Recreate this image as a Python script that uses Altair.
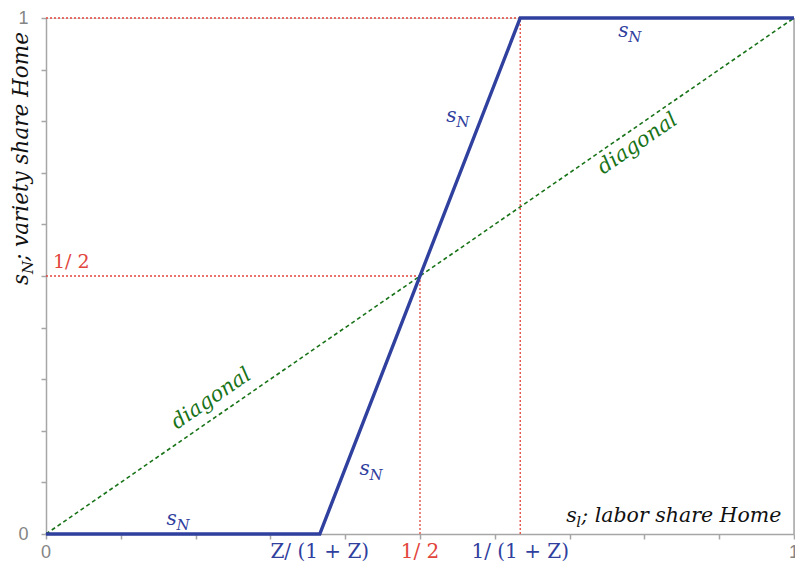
import altair as alt
import pandas as pd

# ---- data ----
kink_low = 0.366   # Z/(1+Z)
kink_high = 0.634  # 1/(1+Z)
half = 0.5
sl_vals = [0.0, kink_low, kink_high, 1.0]
sn_vals = [0.0, 0.0, 1.0, 1.0]
diag_x = [0.0, 1.0]
diag_y = [0.0, 1.0]
tick_vals = [0.0, 0.1, 0.2, 0.3, 0.4, 0.5, 0.6, 0.7, 0.8, 0.9, 1.0]

# red dotted guides (x, y, x2, y2)
guide_x = [0.0, kink_high, 0.0, half]
guide_y = [1.0, 0.0, half, 0.0]
guide_x2 = [kink_high, kink_high, half, half]
guide_y2 = [1.0, 1.0, half, half]

# s_N label anchors (data coords)
sn_lab_x = [0.765, 0.535, 0.419, 0.161]
sn_lab_y = [0.963, 0.798, 0.114, 0.017]
diag_lab_x = [0.791, 0.221]
diag_lab_y = [0.756, 0.262]
x_lab_text = ["0", "Z/ (1 + Z)", "1/ 2", "1/ (1 + Z)", "1"]
x_lab_pos = [0.0, kink_low, half, kink_high, 1.0]
x_lab_kind = ["plain", "blue", "red", "blue", "plain"]

BLUE = "#2F409E"
GREEN = "#187318"
RED = "#E2453C"
GRAY = "#A6A6A6"
LGRAY = "#858585"
SERIF = "DejaVu Serif"
SANS = "Liberation Sans"

xs = alt.Scale(domain=[0, 1], nice=False, zero=False, padding=0)
ys = alt.Scale(domain=[0, 1], nice=False, zero=False, padding=0)
x_axis = alt.Axis(values=tick_vals, labels=False, title=None, grid=False,
                  domainColor=GRAY, domainWidth=1.5, tickColor=GRAY, tickWidth=1.5, tickSize=5)
y_axis = alt.Axis(values=tick_vals, title=None, grid=False,
                  labelExpr="datum.value == 0 ? '0' : (datum.value == 1 ? '1' : '')",
                  labelFont=SANS, labelFontSize=18, labelColor=LGRAY, labelPadding=13,
                  domainColor=GRAY, domainWidth=1.5, tickColor=GRAY, tickWidth=1.5, tickSize=5)

X = lambda f="x": alt.X(f + ":Q", scale=xs, axis=x_axis)
Y = lambda f="y": alt.Y(f + ":Q", scale=ys, axis=y_axis)

line_df = pd.DataFrame({"x": sl_vals, "y": sn_vals})
diag_df = pd.DataFrame({"x": diag_x, "y": diag_y})
guide_df = pd.DataFrame({"x": guide_x, "y": guide_y, "x2": guide_x2, "y2": guide_y2})
border_df = pd.DataFrame({"x": [1.0], "y": [0.0], "y2": [1.0]})

guides = alt.Chart(guide_df).mark_rule(color=RED, strokeWidth=1.3, strokeDash=[2, 2]).encode(
    x=X(), y=Y(), x2="x2:Q", y2="y2:Q")
border = alt.Chart(border_df).mark_rule(color=GRAY, strokeWidth=1.5).encode(
    x=X(), y=Y(), y2="y2:Q")
diag = alt.Chart(diag_df).mark_line(color=GREEN, strokeWidth=1.6, strokeDash=[4, 3]).encode(
    x=X(), y=Y())
sline = alt.Chart(line_df).mark_line(color=BLUE, strokeWidth=3.4).encode(x=X(), y=Y())

sn_df = pd.DataFrame({"x": sn_lab_x, "y": sn_lab_y, "t": ["s"] * 4, "sub": ["N"] * 4})
sn_main = alt.Chart(sn_df).mark_text(font=SERIF, fontStyle="italic", fontSize=20, color=BLUE,
                                     align="left", baseline="alphabetic").encode(x=X(), y=Y(), text="t:N")
sn_sub = alt.Chart(sn_df).mark_text(font=SERIF, fontStyle="italic", fontSize=15, color=BLUE,
                                    align="left", baseline="alphabetic", dx=10, dy=5).encode(x=X(), y=Y(), text="sub:N")

diag_df2 = pd.DataFrame({"x": diag_lab_x, "y": diag_lab_y, "t": ["diagonal"] * 2})
diag_lab = alt.Chart(diag_df2).mark_text(font=SERIF, fontStyle="italic", fontSize=21, color=GREEN,
                                         align="center", baseline="middle", angle=325.5).encode(x=X(), y=Y(), text="t:N")

half_df = pd.DataFrame({"x": [0.0], "y": [half], "t": ["1/ 2"]})
half_lab = alt.Chart(half_df).mark_text(font=SERIF, fontSize=19, color=RED, align="left",
                                        baseline="alphabetic", dx=7, dy=-8).encode(x=X(), y=Y(), text="t:N")

sl_df = pd.DataFrame({"x": [0.6955], "y": [0.0233], "t": ["s"], "sub": ["l"], "rest": ["; labor share Home"]})
sl_main = alt.Chart(sl_df).mark_text(font=SERIF, fontStyle="italic", fontSize=20.5, color="#111111",
                                     align="left", baseline="alphabetic").encode(x=X(), y=Y(), text="t:N")
sl_sub = alt.Chart(sl_df).mark_text(font=SERIF, fontStyle="italic", fontSize=15, color="#111111",
                                    align="left", baseline="alphabetic", dx=10, dy=5).encode(x=X(), y=Y(), text="sub:N")
sl_rest = alt.Chart(sl_df).mark_text(font=SERIF, fontStyle="italic", fontSize=20.5, color="#111111",
                                     align="left", baseline="alphabetic", dx=15).encode(x=X(), y=Y(), text="rest:N")

XL_Y = 540
xl_df = pd.DataFrame({"x": x_lab_pos, "t": x_lab_text, "k": x_lab_kind})
xl_plain = alt.Chart(xl_df).transform_filter("datum.k == 'plain'").mark_text(
    font=SANS, fontSize=18, color=LGRAY, align="center", baseline="alphabetic").encode(
    x=X(), y=alt.value(XL_Y), text="t:N")
xl_blue = alt.Chart(xl_df).transform_filter("datum.k == 'blue'").mark_text(
    font=SERIF, fontSize=20, color=BLUE, align="center", baseline="alphabetic").encode(
    x=X(), y=alt.value(XL_Y), text="t:N")
xl_red = alt.Chart(xl_df).transform_filter("datum.k == 'red'").mark_text(
    font=SERIF, fontSize=20, color=RED, align="center", baseline="alphabetic").encode(
    x=X(), y=alt.value(XL_Y), text="t:N")

YT_X, YT_Y = -18, 267
yt_df = pd.DataFrame({"t": ["s"], "sub": ["N"], "rest": ["; variety share Home"]})
yt_main = alt.Chart(yt_df).mark_text(font=SERIF, fontStyle="italic", fontSize=21.5, color="#111111",
                                     align="left", baseline="alphabetic", angle=270).encode(
    x=alt.value(YT_X), y=alt.value(YT_Y), text="t:N")
yt_sub = alt.Chart(yt_df).mark_text(font=SERIF, fontStyle="italic", fontSize=15, color="#111111",
                                    align="left", baseline="alphabetic", angle=270, dx=11, dy=5).encode(
    x=alt.value(YT_X), y=alt.value(YT_Y), text="sub:N")
yt_rest = alt.Chart(yt_df).mark_text(font=SERIF, fontStyle="italic", fontSize=21.5, color="#111111",
                                     align="left", baseline="alphabetic", angle=270, dx=24).encode(
    x=alt.value(YT_X), y=alt.value(YT_Y), text="rest:N")

chart = alt.layer(
    guides, border, diag, sline,
    sn_main, sn_sub, diag_lab, half_lab,
    sl_main, sl_sub, sl_rest,
    xl_plain, xl_blue, xl_red,
    yt_main, yt_sub, yt_rest,
).properties(
    width=748, height=516,
    autosize=alt.AutoSizeParams(type="none"),
    padding={"left": 38, "top": 10, "right": 1, "bottom": 28},
).configure_view(stroke=None).configure(background="white")

chart.save("out.html", embed_options={"renderer": "svg", "actions": False})
